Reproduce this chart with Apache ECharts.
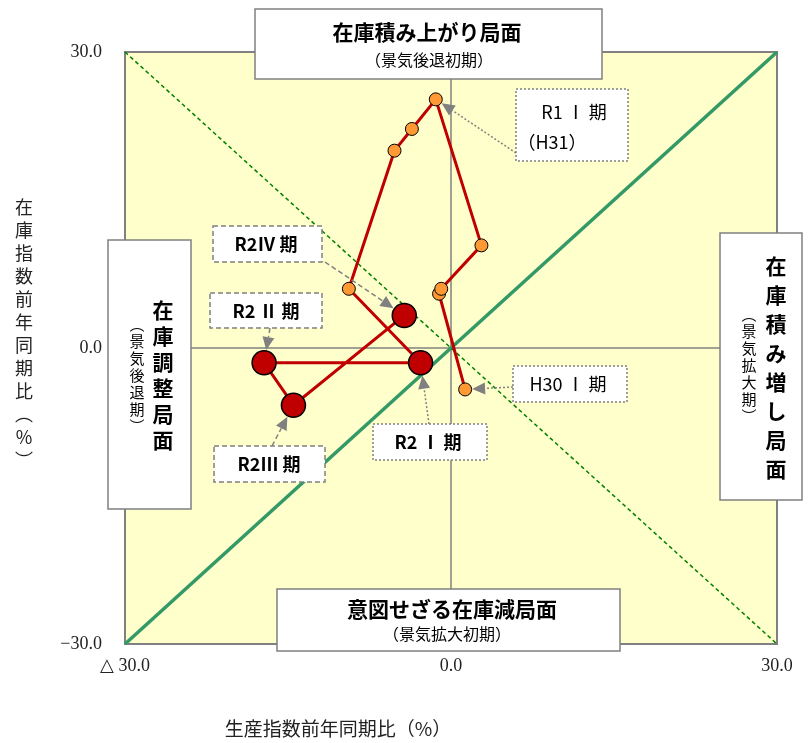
<!DOCTYPE html>
<html style="height: 100%">
<head>
<meta charset="utf-8">
<script src="https://cdn.jsdelivr.net/npm/echarts@6/dist/echarts.min.js"></script>
</head>
<body style="height: 100%; margin: 0; background: #fff;">
<div id="main" style="width: 810px; height: 743px;"></div>
<script>
// 四半期ごとの生産指数・在庫指数の前年同期比
var periods = ['H30Ⅰ', 'H30Ⅱ', 'H30Ⅲ', 'H30Ⅳ', 'R1Ⅰ', 'R1Ⅱ', 'R1Ⅲ', 'R1Ⅳ', 'R2Ⅰ', 'R2Ⅱ', 'R2Ⅲ', 'R2Ⅳ'];
var production = [1.3, -1.1, -0.9, 2.8, -1.4, -3.6, -5.2, -9.4, -2.8, -17.2, -14.5, -4.3];
var inventory = [-4.2, 5.5, 6.0, 10.4, 25.2, 22.2, 20.0, 6.0, -1.5, -1.5, -5.8, 3.3];
var axisMin = -30, axisMax = 30, axisStep = 30;

var chart = echarts.init(document.getElementById('main'));
var serif = '"Liberation Serif", "DejaVu Serif", serif';
var jp = '"Noto Sans CJK JP", sans-serif';

var pathData = periods.map(function (p, i) {
    var isR2 = p.indexOf('R2') === 0;
    return {
        name: p,
        value: [production[i], inventory[i]],
        symbolSize: isR2 ? 24 : 13,
        itemStyle: {
            color: isR2 ? '#c00000' : '#ff9933',
            borderColor: '#000',
            borderWidth: isR2 ? 1.5 : 1
        }
    };
});

var option = {
    animation: false,
    grid: {
        left: 125, right: 33, top: 52, bottom: 99,
        outerBoundsMode: 'none',
        show: true,
        backgroundColor: '#ffffcc',
        borderColor: '#808080',
        borderWidth: 2
    },
    xAxis: {
        type: 'value', min: axisMin, max: axisMax, interval: axisStep,
        axisLine: { show: false, onZero: false },
        axisTick: { show: false },
        splitLine: { lineStyle: { color: '#808080', width: 1.5 } },
        axisLabel: {
            margin: 13, color: '#222', fontSize: 18, fontFamily: serif,
            formatter: function (v) { return v < 0 ? '△ ' + (-v).toFixed(1) : v.toFixed(1); }
        }
    },
    yAxis: {
        type: 'value', min: axisMin, max: axisMax, interval: axisStep,
        axisLine: { show: false, onZero: false },
        axisTick: { show: false },
        splitLine: { lineStyle: { color: '#808080', width: 1.5 } },
        axisLabel: {
            margin: 23, color: '#222', fontSize: 18, fontFamily: serif,
            formatter: function (v) { return v < 0 ? '−' + (-v).toFixed(1) : v.toFixed(1); }
        }
    },
    series: [{
        type: 'line',
        data: [[axisMin, axisMin], [axisMax, axisMax]],
        symbol: 'none', silent: true,
        lineStyle: { color: '#339966', width: 3.5 }
    }, {
        type: 'line',
        data: [[axisMin, axisMax], [axisMax, axisMin]],
        symbol: 'none', silent: true,
        lineStyle: { color: '#008000', width: 1.5, type: [4, 3] }
    }, {
        type: 'line',
        data: pathData,
        symbol: 'circle',
        lineStyle: { color: '#c00000', width: 3 },
        z: 5
    }]
};
chart.setOption(option);

// --- 注記ボックスと矢印 ---
function box(x, y, w, h, dash) {
    return {
        type: 'rect', z: 50,
        shape: { x: x, y: y, width: w, height: h },
        style: { fill: '#fff', stroke: '#808080', lineWidth: 1.5, lineDash: dash || null }
    };
}
function txt(x, y, text, size, bold, extra) {
    var s = {
        x: x, y: y, text: text, fill: '#000',
        font: (bold ? 'bold ' : '') + size + 'px ' + jp,
        align: 'center', verticalAlign: 'middle'
    };
    if (extra) for (var k in extra) s[k] = extra[k];
    return { type: 'text', z: 51, style: s };
}
function vert(str) { return str.split('').join('\n'); }

function arrow(from, idx, gap, dash) {
    var p = chart.convertToPixel({ gridIndex: 0 }, pathData[idx].value);
    var dx = from[0] - p[0], dy = from[1] - p[1];
    var len = Math.sqrt(dx * dx + dy * dy);
    var ux = dx / len, uy = dy / len;
    var tip = [p[0] + ux * gap, p[1] + uy * gap];
    var hl = 13, hw = 6;
    var base = [tip[0] + ux * hl, tip[1] + uy * hl];
    return [{
        type: 'line', z: 40,
        shape: { x1: from[0], y1: from[1], x2: base[0], y2: base[1] },
        style: { stroke: '#808080', lineWidth: 1.5, lineDash: dash }
    }, {
        type: 'polygon', z: 40,
        shape: { points: [tip, [base[0] - uy * hw, base[1] + ux * hw], [base[0] + uy * hw, base[1] - ux * hw]] },
        style: { fill: '#808080' }
    }];
}

var dot = [2, 2], dsh = [5, 3];
var g = [];
// 局面ボックス
g.push(box(255, 9, 347, 70));
g.push(txt(427, 32, '在庫積み上がり局面', 21, true, { letterSpacing: 2 }));
g.push(txt(429, 60, '（景気後退初期）', 16, false));
g.push(box(277, 589, 343, 62));
g.push(txt(452, 609, '意図せざる在庫減局面', 21, true, { letterSpacing: 1 }));
g.push(txt(447, 634, '（景気拡大初期）', 16, false));
g.push(box(108, 240, 83, 269));
g.push(txt(163, 375, vert('在庫調整局面'), 21, true, { lineHeight: 26 }));
g.push(txt(137, 375, vert('︵景気後退期︶'), 15, false, { lineHeight: 17 }));
g.push(box(720, 233, 82, 267));
g.push(txt(776, 368, vert('在庫積み増し局面'), 21, true, { lineHeight: 29 }));
g.push(txt(749, 365, vert('︵景気拡大期︶'), 15, false, { lineHeight: 17 }));

// 期間ラベル
g.push(box(516, 89, 112, 72, dot));
g.push(txt(574, 112, 'R1 Ⅰ 期', 18, false));
g.push(txt(552, 142, '（H31）', 18, false));
g.push(box(213, 226, 109, 36, dsh));
g.push(txt(266, 244, 'R2Ⅳ 期', 18, true));
g.push(box(210, 293, 112, 35, dsh));
g.push(txt(266, 311, 'R2 Ⅱ 期', 18, true));
g.push(box(214, 446, 111, 36, dsh));
g.push(txt(269, 464, 'R2Ⅲ 期', 18, true));
g.push(box(373, 424, 114, 36, dot));
g.push(txt(428, 442, 'R2 Ⅰ 期', 18, true));
g.push(box(513, 366, 114, 36, dot));
g.push(txt(568, 384, 'H30 Ⅰ 期', 18, false));

g = g.concat(arrow([516, 153], 4, 7, dot));
g = g.concat(arrow([325, 262], 11, 13, dsh));
g = g.concat(arrow([270, 328], 9, 13, dsh));
g = g.concat(arrow([272, 446], 10, 13, dsh));
g = g.concat(arrow([429, 424], 8, 13, dot));
g = g.concat(arrow([513, 387], 0, 7, dot));

// 軸タイトル
g.push({
    type: 'text', z: 30,
    style: { x: 24, y: 334, text: vert('在庫指数前年同期比︵%︶'), font: '18px ' + jp, fill: '#222',
             align: 'center', verticalAlign: 'middle', lineHeight: 23 }
});
g.push({
    type: 'text', z: 30,
    style: { x: 338, y: 729, text: '生産指数前年同期比（%）', font: '19px ' + jp, fill: '#222',
             align: 'center', verticalAlign: 'middle' }
});

chart.setOption({ graphic: g });
</script>
</body>
</html>
